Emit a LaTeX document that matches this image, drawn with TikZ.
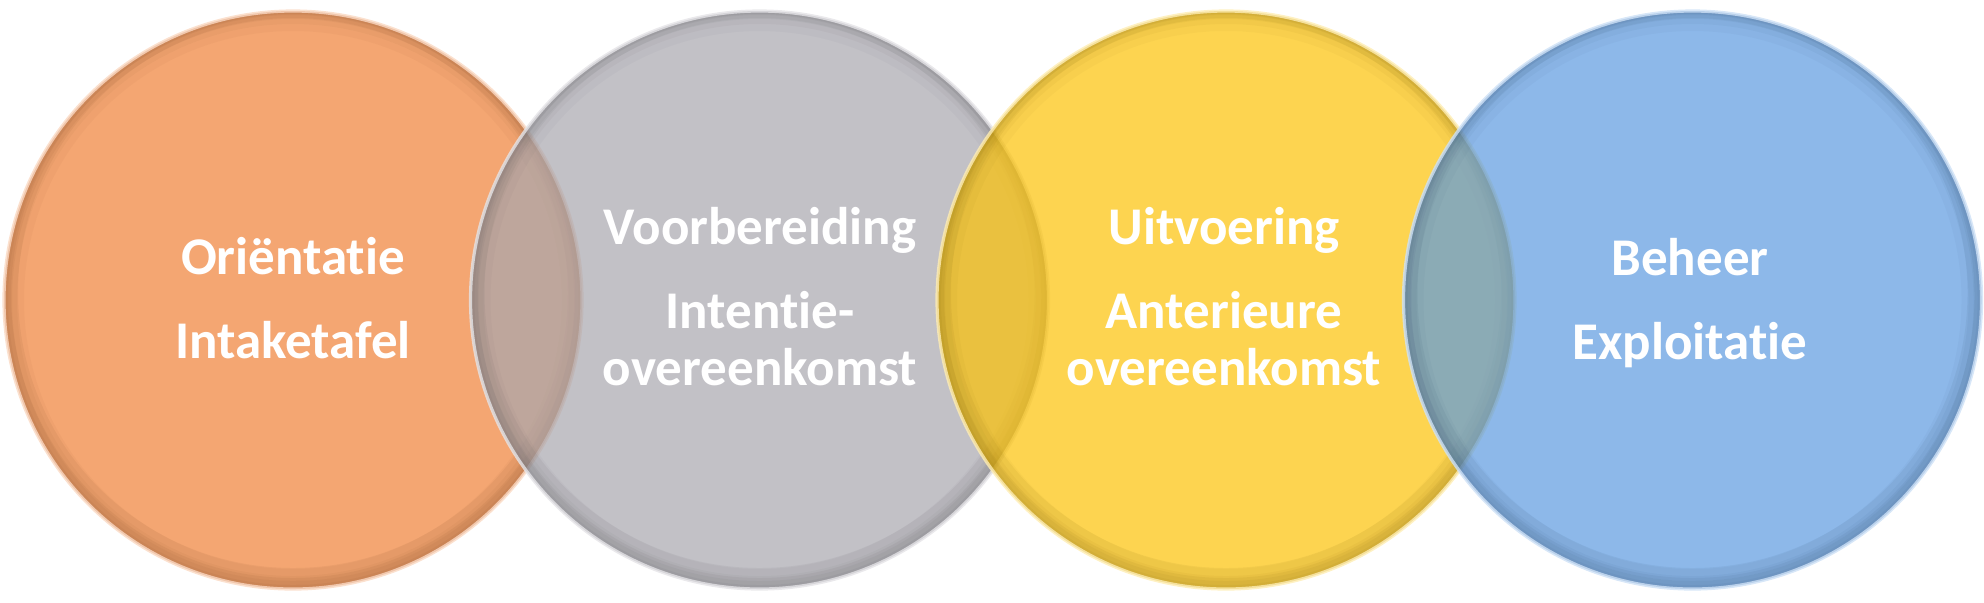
\documentclass[tikz,border=0pt]{standalone}
\usepackage{fontspec}
\setmainfont{Carlito}[RawFeature={-liga;-clig;-calt;-dlig}]
\definecolor{corange}{RGB}{239,128,54}
\definecolor{cgray}{RGB}{168,166,174}
\definecolor{cyellow}{RGB}{252,194,6}
\definecolor{cblue}{RGB}{92,154,224}
\tikzset{
  lbl/.style={text=white, font=\bfseries\fontsize{26.5pt}{28.5pt}\selectfont, inner sep=0pt, anchor=base},
}
\begin{document}
\begin{tikzpicture}[x=0.5pt,y=-0.5pt]
\useasboundingbox (0,0) rectangle (1984,602);
\foreach \cx/\col in {293/corange, 759.5/cgray, 1226/cyellow, 1692.5/cblue}{
  \begin{scope}
    \fill[\col, fill opacity=0.7] (\cx,300) circle[radius=289];
    \begin{scope}
      \clip (\cx,300) circle[radius=289];
      \foreach \w/\o in {20/0.035, 13/0.045, 8/0.055, 4/0.06}{
        \draw[\col!45!black, line width=\w pt, draw opacity=\o] (\cx,300) circle[radius=289];
      }
      \draw[\col!45!black, line width=14pt, draw opacity=0.07] (\cx,293) circle[radius=289];
      \draw[\col!45!black, line width=7pt, draw opacity=0.07] (\cx,296) circle[radius=289];
    \end{scope}
    \draw[\col!30!white, line width=1.6pt, draw opacity=0.8] (\cx,300) circle[radius=289];
  \end{scope}
}
\node[lbl] (t1a) at (293,274) {Oriën{}t{}a{}t{}ie};
\node[lbl] (t1b) at (293,358) {Intaketafel};
\node[lbl] (t2a) at (760,244) {Voorbereiding};
\node[lbl] (t2b) at (760,328) {Inten{}t{}ie-};
\node[lbl] (t2c) at (760,385) {overeenkomst};
\node[lbl] (t3a) at (1224,244) {Uitvoering};
\node[lbl] (t3b) at (1224,328) {Anterieure};
\node[lbl] (t3c) at (1224,385) {overeenkomst};
\node[lbl] (t4a) at (1690,275) {Beheer};
\node[lbl] (t4b) at (1690,359) {Exploita{}t{}ie};
\end{tikzpicture}
\end{document}
